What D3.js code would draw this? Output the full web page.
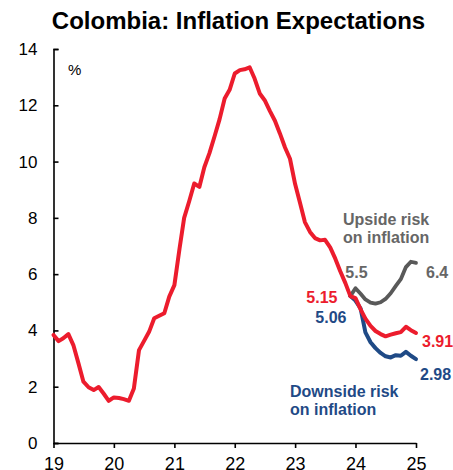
<!DOCTYPE html>
<html>
<head>
<meta charset="utf-8">
<script src="https://cdn.jsdelivr.net/npm/d3@7"></script>
<style>
  html, body { margin: 0; padding: 0; background: #fff; }
  svg { display: block; font-family: "Liberation Sans", Arial, sans-serif; }
</style>
</head>
<body>
<svg id="chart" width="453" height="470"></svg>
<script>
// Inflation expectations, monthly (%)
const histMonths = [
  "2019-01","2019-02","2019-03","2019-04","2019-05","2019-06","2019-07","2019-08","2019-09","2019-10","2019-11","2019-12",
  "2020-01","2020-02","2020-03","2020-04","2020-05","2020-06","2020-07","2020-08","2020-09","2020-10","2020-11","2020-12",
  "2021-01","2021-02","2021-03","2021-04","2021-05","2021-06","2021-07","2021-08","2021-09","2021-10","2021-11","2021-12",
  "2022-01","2022-02","2022-03","2022-04","2022-05","2022-06","2022-07","2022-08","2022-09","2022-10","2022-11","2022-12",
  "2023-01","2023-02","2023-03","2023-04","2023-05","2023-06","2023-07","2023-08","2023-09","2023-10","2023-11","2023-12"
];
const histValues = [
  3.84, 3.62, 3.72, 3.87, 3.48, 2.83, 2.18, 1.98, 1.88, 1.99, 1.75, 1.50,
  1.62, 1.60, 1.56, 1.50, 1.94, 3.30, 3.62, 3.95, 4.43, 4.52, 4.61, 5.20,
  5.61, 6.90, 8.00, 8.60, 9.22, 9.10, 9.80, 10.30, 10.90, 11.50, 12.24, 12.55,
  13.13, 13.25, 13.28, 13.35, 12.95, 12.42, 12.18, 11.80, 11.45, 11.00, 10.50, 10.10,
  9.20, 8.50, 7.85, 7.50, 7.28, 7.20, 7.22, 6.95, 6.55, 6.10, 5.68, 5.22
];

// Scenario paths from Dec 2023 to Jan 2025
const pathMonths = [
  "2023-12","2024-01","2024-02","2024-03","2024-04","2024-05","2024-06",
  "2024-07","2024-08","2024-09","2024-10","2024-11","2024-12","2025-01"
];
const baseValues     = [5.22, 5.15, 4.75, 4.42, 4.16, 3.98, 3.87, 3.79, 3.85, 3.90, 3.94, 4.13, 4.01, 3.91];
const upsideValues   = [5.22, 5.50, 5.30, 5.10, 4.99, 4.95, 5.00, 5.12, 5.32, 5.58, 5.82, 6.25, 6.44, 6.40];
const downsideValues = [5.22, 5.06, 4.78, 3.93, 3.58, 3.37, 3.20, 3.08, 3.04, 3.12, 3.10, 3.24, 3.10, 2.98];

const xTickYears = ["2019","2020","2021","2022","2023","2024","2025"];
const yTicks = [0, 2, 4, 6, 8, 10, 12, 14];

const RED = "#ec1c2d", BLUE = "#1f4a86", GRAY = "#595959", GRAY_TXT = "#666666";

const parseMonth = d3.timeParse("%Y-%m");
const parseYear = d3.timeParse("%Y");

const svg = d3.select("#chart");

const x = d3.scaleTime()
  .domain([parseYear("2019"), parseYear("2025")])
  .range([53.5, 416]);
const y = d3.scaleLinear().domain([0, 14]).range([443, 49]);

// Title
svg.append("text")
  .attr("x", 238.5).attr("y", 29)
  .attr("text-anchor", "middle")
  .attr("font-size", 24).attr("font-weight", "bold")
  .attr("fill", "#000")
  .text("Colombia: Inflation Expectations");

// Y axis (ticks pointing inward)
const yAxis = svg.append("g")
  .attr("transform", `translate(${x.range()[0]},0)`)
  .call(d3.axisRight(y).tickValues(yTicks).tickSize(5).tickFormat(d3.format("d")));
yAxis.select(".domain").attr("stroke", "#000").attr("stroke-width", 1.6);
yAxis.selectAll(".tick line").attr("stroke", "#000").attr("stroke-width", 1.6);
yAxis.selectAll(".tick text")
  .attr("x", -16).attr("text-anchor", "end")
  .attr("font-size", 17).attr("fill", "#000");

// X axis
const xAxis = svg.append("g")
  .attr("transform", `translate(0,${y(0)})`)
  .call(d3.axisBottom(x)
    .tickValues(xTickYears.map(parseYear))
    .tickSize(5).tickSizeOuter(0)
    .tickFormat(d3.timeFormat("%y")));
xAxis.select(".domain").attr("stroke", "#000").attr("stroke-width", 1.6);
xAxis.selectAll(".tick line").attr("stroke", "#000").attr("stroke-width", 1.6);
xAxis.selectAll(".tick text")
  .attr("y", 14).attr("dy", "0.71em")
  .attr("font-size", 18).attr("fill", "#000");

// Unit label
svg.append("text")
  .attr("x", 68).attr("y", 75)
  .attr("font-size", 15).attr("fill", "#000")
  .text("%");

const line = d3.line()
  .x(d => x(d.date))
  .y(d => y(d.value))
  .curve(d3.curveLinear);

const hist = histMonths.map((m, i) => ({ date: parseMonth(m), value: histValues[i] }));
const mk = vals => pathMonths.map((m, i) => ({ date: parseMonth(m), value: vals[i] }));
const base = mk(baseValues), up = mk(upsideValues), down = mk(downsideValues);

function drawLine(data, color, width) {
  svg.append("path")
    .datum(data)
    .attr("fill", "none")
    .attr("stroke", color)
    .attr("stroke-width", width)
    .attr("stroke-linejoin", "round")
    .attr("stroke-linecap", "round")
    .attr("d", line);
}

drawLine(up, GRAY, 3.8);
drawLine(down, BLUE, 4);
drawLine(hist.concat(base.slice(1)), RED, 4);

// Value labels
function label(pt, text, color, dx, dy, anchor) {
  svg.append("text")
    .attr("x", x(pt.date) + dx).attr("y", y(pt.value) + dy)
    .attr("text-anchor", anchor)
    .attr("font-size", 16).attr("font-weight", "bold")
    .attr("fill", color)
    .text(text);
}
label(up[1], d3.format(".1f")(up[1].value), GRAY_TXT, 1, -10, "middle");
label(up[up.length - 1], d3.format(".1f")(up[up.length - 1].value), GRAY_TXT, 10, 15, "start");
label(base[1], d3.format(".2f")(base[1].value), RED, -18, 5, "end");
label(base[base.length - 1], d3.format(".2f")(base[base.length - 1].value), RED, 6, 14, "start");
label(down[1], d3.format(".2f")(down[1].value), BLUE, -9, 22, "end");
label(down[down.length - 1], d3.format(".2f")(down[down.length - 1].value), BLUE, 4, 21, "start");

// Scenario notes
function note(lines, color, xPos, yPos) {
  const t = svg.append("text")
    .attr("font-size", 16).attr("font-weight", "bold")
    .attr("fill", color);
  lines.forEach((s, i) => {
    t.append("tspan").attr("x", xPos).attr("y", yPos + i * 18).text(s);
  });
}
note(["Upside risk", "on inflation"], GRAY_TXT, 343, 225);
note(["Downside risk", "on inflation"], BLUE, 290, 397);
</script>
</body>
</html>
